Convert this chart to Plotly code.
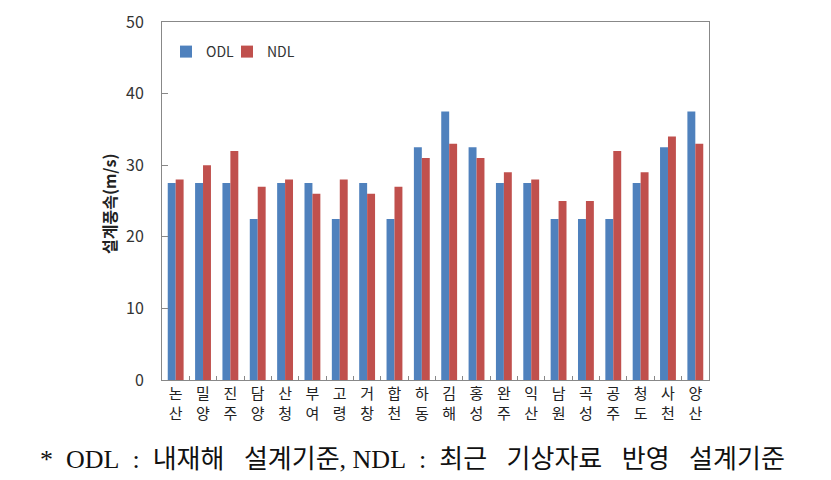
import plotly.graph_objects as go

categories = ["논<br>산", "밀<br>양", "진<br>주", "담<br>양", "산<br>청", "부<br>여", "고<br>령", "거<br>창", "합<br>천", "하<br>동",
              "김<br>해", "홍<br>성", "완<br>주", "익<br>산", "남<br>원", "곡<br>성", "공<br>주", "청<br>도", "사<br>천", "양<br>산"]
odl = [27.5, 27.5, 27.5, 22.5, 27.5, 27.5, 22.5, 27.5, 22.5, 32.5,
       37.5, 32.5, 27.5, 27.5, 22.5, 22.5, 22.5, 27.5, 32.5, 37.5]
ndl = [28, 30, 32, 27, 28, 26, 28, 26, 27, 31,
       33, 31, 29, 28, 25, 25, 32, 29, 34, 33]
y_ticks = [0, 10, 20, 30, 40, 50]

fig = go.Figure()
fig.add_trace(go.Bar(x=categories, y=odl, name="ODL", legend="legend",
                     marker=dict(color="#4F81BD", line=dict(width=0))))
fig.add_trace(go.Bar(x=categories, y=ndl, name="NDL", legend="legend2",
                     marker=dict(color="#C0504D", line=dict(width=0))))

font_k = "Noto Sans CJK KR, Noto Sans, sans-serif"
# page body adds an 8px offset; margins compensate
L, R, T, B = 154, 130, 14, 108
PW = 831 - L - R
PH = 480 - T - B

def px_x(sx):
    return (sx - 8 - L) / PW

def px_y(sy):
    return 1 - (sy - 8 - T) / PH

leg_common = dict(orientation="h", yanchor="top", xanchor="left",
                  font=dict(size=14, color="#333333"), bgcolor="rgba(0,0,0,0)",
                  itemwidth=30, tracegroupgap=0)
fig.update_layout(
    width=831, height=480,
    margin=dict(l=L, r=R, t=T, b=B, autoexpand=False),
    paper_bgcolor="white", plot_bgcolor="white",
    barmode="group", bargap=0.42, bargroupgap=0,
    font=dict(family=font_k, color="#333333"),
    showlegend=True,
    legend=dict(x=px_x(166), y=px_y(36), **leg_common),
    legend2=dict(x=px_x(227), y=px_y(36), **leg_common),
)
fig.update_xaxes(
    showline=True, linecolor="#888888", linewidth=1, mirror=True,
    ticks="inside", ticklen=4, tickcolor="#888888", tickson="boundaries",
    tickfont=dict(size=15, color="#222222", family=font_k),
    showgrid=False,
)
fig.update_yaxes(
    range=[0, 50], tickvals=y_ticks,
    showline=True, linecolor="#888888", linewidth=1, mirror=True,
    ticks="inside", ticklen=6, tickcolor="#888888", ticklabelstandoff=14,
    tickfont=dict(size=16, color="#333333"),
    showgrid=False, zeroline=False,
)
fig.add_annotation(
    text="<b>설계풍속(m/s)</b>", textangle=-90, xref="paper", yref="paper",
    x=px_x(109), y=px_y(204), xanchor="center", yanchor="middle", showarrow=False,
    font=dict(size=16, color="#222222", family=font_k),
)
sp = "&nbsp;&nbsp;&nbsp;"
fig.add_annotation(
    text="*&nbsp;&nbsp;ODL&nbsp;&nbsp;:&nbsp;&nbsp;내재해" + sp + "설계기준,&nbsp;NDL&nbsp;&nbsp;:&nbsp;&nbsp;최근" + sp + "기상자료" + sp + "반영" + sp + "설계기준",
    xref="paper", yref="paper", x=px_x(412), y=px_y(459),
    xanchor="center", yanchor="middle", showarrow=False,
    font=dict(size=26, color="#111111", family="Liberation Serif, Noto Sans CJK KR, serif"),
)

fig.write_html("out.html")
